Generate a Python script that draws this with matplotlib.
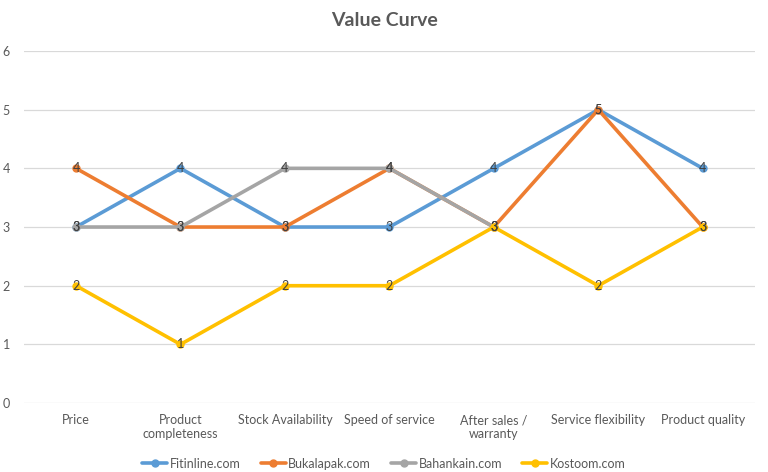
import numpy as np
import matplotlib
matplotlib.use('Agg')
import matplotlib.pyplot as plt

plt.rcParams['font.family'] = ['Lato', 'DejaVu Sans']

# categories and values
categorias = ['Price', 'Product\ncompleteness', 'Stock Availability', 'Speed of service',
              'After sales /\nwarranty', 'Service flexibility', 'Product quality']
fitinline = [3, 4, 3, 3, 4, 5, 4]
bukalapak = [4, 3, 3, 4, 3, 5, 3]
bahankain = [3, 3, 4, 4, 3, np.nan, np.nan]
kostoom = [2, 1, 2, 2, 3, 2, 3]

series = [('Fitinline.com', fitinline, '#5B9BD5'),
          ('Bukalapak.com', bukalapak, '#ED7D31'),
          ('Bahankain.com', bahankain, '#A5A5A5'),
          ('Kostoom.com', kostoom, '#FFC000')]

fig = plt.figure(figsize=(7.68, 4.72), dpi=100)
ax = fig.add_axes([0.031, 0.146, 0.952, 0.746])

x = np.arange(len(categorias))
for nombre, valores, color in series:
    ax.plot(x, valores, color=color, lw=2.6, marker='o', ms=5, label=nombre,
            solid_capstyle='round', zorder=3)

# data labels centred on each point
for nombre, valores, color in series:
    for xi, v in zip(x, valores):
        if not np.isnan(v):
            ax.text(xi, v, '%d' % v, ha='center', va='center', fontsize=9,
                    color='#404040', zorder=5)

ax.set_xlim(-0.5, len(categorias) - 0.5)
ax.set_ylim(0, 6)
ax.set_yticks(range(0, 7))
ax.grid(axis='y', color='#D9D9D9', lw=0.9, zorder=0)
ax.set_xticks(x)
ax.set_xticklabels(categorias, fontsize=9, color='#595959')
ax.tick_params(axis='both', length=0, labelsize=9, labelcolor='#595959')
ax.tick_params(axis='y', pad=10)
ax.tick_params(axis='x', pad=8)
for s in ax.spines.values():
    s.set_visible(False)

fig.text(0.5, 0.957, 'Value Curve', ha='center', va='center', fontsize=14,
         fontweight='bold', color='#595959')

fig.legend(loc='center', bbox_to_anchor=(0.5, 0.018), ncol=4, frameon=False,
           fontsize=9, labelcolor='#595959', handlelength=2.0, columnspacing=1.6,
           handletextpad=0.2)

plt.savefig('out.png', dpi=100)
